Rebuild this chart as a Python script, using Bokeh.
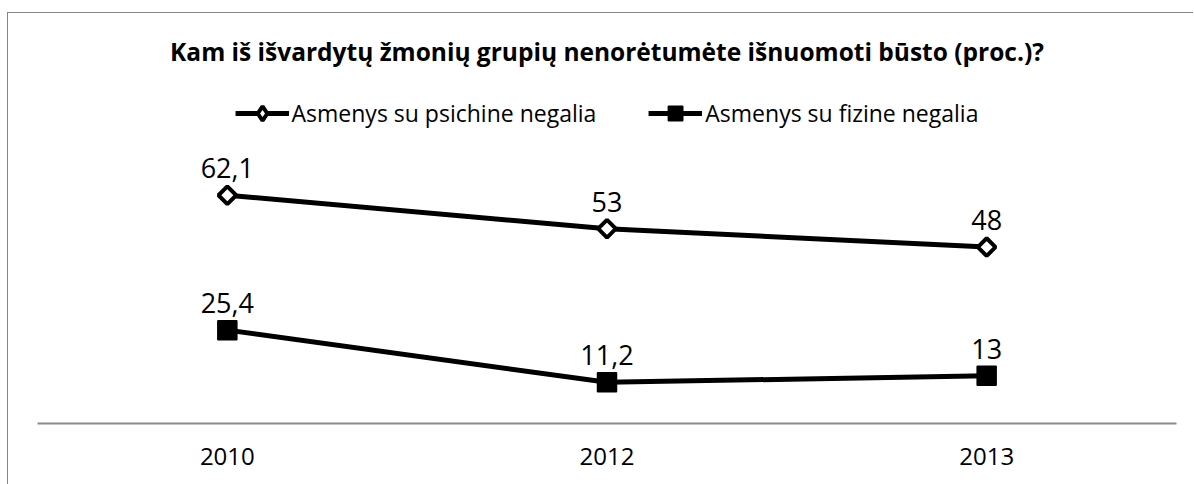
import math
from bokeh.plotting import figure
from bokeh.models import ColumnDataSource, Range1d, Legend, LegendItem
from bokeh.core.properties import value
from bokeh.embed import file_html
from bokeh.resources import INLINE

# ---- data ----
years = ["2010", "2012", "2013"]
psichine = [62.1, 53, 48]
fizine = [25.4, 11.2, 13]
series_names = ["Asmenys su psichine negalia", "Asmenys su fizine negalia"]
title_text = "Kam iš išvardytų žmonių grupių nenorėtumėte išnuomoti būsto (proc.)?"


def fmt(v):
    return ("%g" % v).replace(".", ",")


src = ColumnDataSource(data=dict(
    year=years,
    psi=psichine,
    fiz=fizine,
    psi_lbl=[fmt(v) for v in psichine],
    fiz_lbl=[fmt(v) for v in fizine],
))

FONT = "Open Sans"

p = figure(
    x_range=years, y_range=Range1d(0, 95.5),
    width=1186, height=472,
    min_border_left=29, min_border_right=18, min_border_bottom=76, min_border_top=0,
    output_backend="svg", toolbar_location=None,
    title=title_text,
)
p.styles = {"border-left": "1px solid #868686", "border-top": "1px solid #868686",
            "margin-top": "12px", "margin-left": "7px", "padding-top": "14px"}

p.title.text_font = FONT
p.title.text_font_size = "24.5px"
p.title.text_font_style = "bold"
p.title.align = "center"
p.title.offset = -4
p.title.text_color = "black"

p.outline_line_color = None
p.xgrid.grid_line_color = None
p.ygrid.grid_line_color = None
p.yaxis.visible = False

ax = p.xaxis[0]
ax.axis_line_color = "#8a8a8a"
ax.axis_line_width = 2
ax.major_tick_line_color = None
ax.minor_tick_line_color = None
ax.major_tick_out = 0
ax.major_tick_in = 0
ax.major_label_standoff = 24
ax.major_label_text_font = FONT
ax.major_label_text_font_size = "24px"
ax.major_label_text_color = "black"

# series lines
l1 = p.line(x="year", y="psi", source=src, line_color="black", line_width=5)
l2 = p.line(x="year", y="fiz", source=src, line_color="black", line_width=5)

# legend glyph for the diamond series (covered in the chart by the rotated square)
d_leg = p.scatter(x="year", y="psi", source=src, marker="diamond", size=14,
                  fill_color="white", line_color="black", line_width=4)
d1 = p.scatter(x="year", y="psi", source=src, marker="square", angle=math.pi / 4,
               size=12.5, fill_color="white", line_color="black", line_width=4)
s2 = p.scatter(x="year", y="fiz", source=src, marker="square", size=19,
               fill_color="black", line_color="black", line_width=1.5)

# data labels
p.text(x="year", y="psi", text="psi_lbl", source=src, text_align="center",
       text_baseline="bottom", y_offset=-17, text_font=value(FONT),
       text_font_size="27px", text_color="black")
p.text(x="year", y="fiz", text="fiz_lbl", source=src, text_align="center",
       text_baseline="bottom", y_offset=-17, text_font=value(FONT),
       text_font_size="27px", text_color="black")

legend = Legend(items=[
    LegendItem(label=series_names[0], renderers=[l1, d_leg]),
    LegendItem(label=series_names[1], renderers=[l2, s2]),
], orientation="horizontal", location="top_center")
legend.border_line_color = None
legend.background_fill_alpha = 0
legend.glyph_width = 54
legend.glyph_height = 36
legend.label_standoff = 3
legend.spacing = 52
legend.padding = 0
legend.margin = 23
legend.label_text_font = FONT
legend.label_text_font_size = "23px"
legend.label_text_color = "black"
p.add_layout(legend, "center")

open("out.html", "w").write(file_html(p, INLINE))
